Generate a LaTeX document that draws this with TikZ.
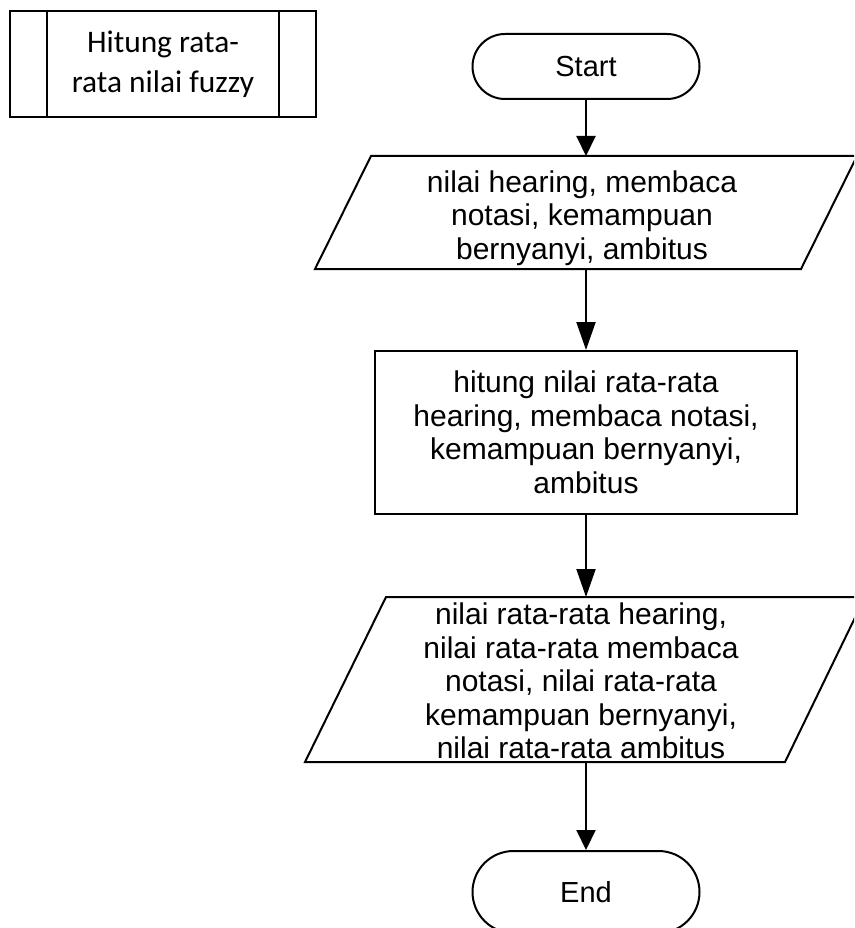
\documentclass[tikz,border=0pt]{standalone}
\usepackage{fontspec}
\setmainfont{Liberation Sans}
\newfontfamily\calibri{Carlito}
\usetikzlibrary{arrows.meta,shapes.misc}
\begin{document}
\begin{tikzpicture}[x=1pt,y=-1pt,
  line width=2pt,
  flowtext/.style={font=\fontsize{30}{33.5}\selectfont, align=center, inner sep=0pt},
  terminal/.style={draw, rounded rectangle, minimum width=227pt, font=\fontsize{29}{33.5}\selectfont, inner sep=0pt},
  procbox/.style={draw, rectangle, minimum width=422pt, minimum height=163pt, flowtext},
  arrowshort/.style={-{Triangle[length=20pt,width=19pt]}},
  arrowlong/.style={-{Triangle[length=28pt,width=19pt]}}
]
\useasboundingbox (0,0) rectangle (854,928);
\clip (0,0) rectangle (854,928);

% predefined process
\node[draw, rectangle, minimum width=306pt, minimum height=106pt, inner sep=0pt,
      font=\calibri\fontsize{31.4}{40.5}\selectfont, align=center] (pp) at (163,64)
      {Hitung rata-\\rata nilai fuzzy};
\draw ([xshift=38pt]pp.north west) -- ([xshift=38pt]pp.south west);
\draw ([xshift=-38pt]pp.north east) -- ([xshift=-38pt]pp.south east);

% start
\node[terminal, minimum height=65pt] (start) at (586,66.5) {Start};

% input 1
\draw (315,269) -- (801,269) -- (857,156) -- (371,156) -- cycle;
\coordinate (in1n) at (586,156);
\coordinate (in1s) at (586,269);
\node[flowtext] (in1) at (582,218) {nilai hearing, membaca\\notasi, kemampuan\\bernyanyi, ambitus};

% process
\node[procbox] (proc) at (586,432.5) {hitung nilai rata-rata\\hearing, membaca notasi,\\kemampuan bernyanyi,\\ambitus};

% output
\draw (305,762) -- (785,762) -- (865,597) -- (386,597) -- cycle;
\coordinate (in2n) at (586,597);
\coordinate (in2s) at (586,762);
\node[flowtext] (in2) at (581,681) {nilai rata-rata hearing,\\nilai rata-rata membaca\\notasi, nilai rata-rata\\kemampuan bernyanyi,\\nilai rata-rata ambitus};

% end
\node[terminal, minimum height=82pt] (end) at (586,892) {End};

% connectors
\draw[arrowshort] (start.south) -- (in1n);
\draw[arrowlong] (in1s) -- (proc.north);
\draw[arrowlong] (proc.south) -- (in2n);
\draw[arrowshort] (in2s) -- (end.north);
\end{tikzpicture}
\end{document}
